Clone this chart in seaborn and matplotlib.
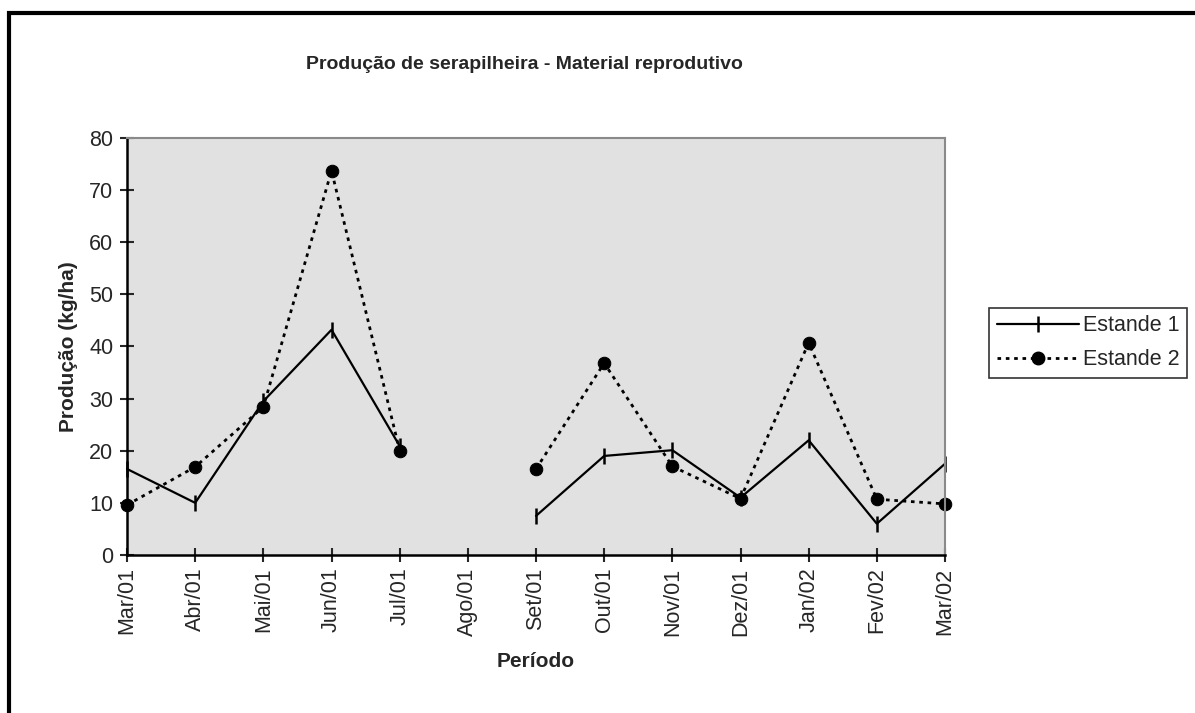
import numpy as np
import pandas as pd
import matplotlib
matplotlib.use("Agg")
import matplotlib.pyplot as plt
from matplotlib.lines import Line2D
from matplotlib.patches import Rectangle
import seaborn as sns

meses = ["Mar/01", "Abr/01", "Mai/01", "Jun/01", "Jul/01", "Ago/01", "Set/01",
         "Out/01", "Nov/01", "Dez/01", "Jan/02", "Fev/02", "Mar/02"]
estande1 = [16.5, 10.0, 29.5, 43.2, 20.9, np.nan, 7.5, 19.0, 20.1, 11.0, 22.0, 6.0, 17.5]
estande2 = [9.6, 16.9, 28.4, 73.7, 20.0, np.nan, 16.5, 36.8, 17.0, 10.8, 40.7, 10.7, 9.8]

sns.set_style("white")
plt.rcParams["font.family"] = ["Liberation Sans", "DejaVu Sans"]

df = pd.DataFrame({"x": np.arange(len(meses)), "Estande 1": estande1, "Estande 2": estande2})
# split into segments at the missing month so lines break there
df["seg"] = df[["Estande 1", "Estande 2"]].isna().any(axis=1).cumsum()
df = df.dropna()

fig = plt.figure(figsize=(11.95, 7.13), dpi=100)
ax = fig.add_axes([0.1063, 0.2216, 0.6845, 0.585])
ax.set_facecolor("#e1e1e1")

s1 = dict(color="black", lw=1.6, marker="|", markersize=11, markeredgewidth=1.8,
          markeredgecolor="black")
s2 = dict(color="black", lw=2.0, linestyle=(0, (1.3, 1.7)), marker="o", markersize=9,
          markeredgecolor="black", markerfacecolor="black")

for s, part in df.groupby("seg"):
    sns.lineplot(data=part, x="x", y="Estande 1", ax=ax, clip_on=False, **s1)
    sns.lineplot(data=part, x="x", y="Estande 2", ax=ax, clip_on=False, **s2)

ax.set_xlim(0, len(meses) - 1)
ax.set_ylim(0, 80)
ax.set_xticks(np.arange(len(meses)))
ax.set_xticklabels(meses, rotation=90, fontsize=15.5)
ax.set_yticks(np.arange(0, 81, 10))
ax.tick_params(axis="y", labelsize=15.5, direction="inout", length=10, width=1.5, left=True, pad=5)
ax.tick_params(axis="x", direction="inout", length=10, width=1.5, bottom=True, pad=4)

for side in ["left", "bottom"]:
    ax.spines[side].set_color("black")
    ax.spines[side].set_linewidth(1.8)
for side in ["top", "right"]:
    ax.spines[side].set_color("#8a8a8a")
    ax.spines[side].set_linewidth(1.5)

ax.set_xlabel("Período", fontsize=15, fontweight="bold", labelpad=12)
ax.set_ylabel("Produção (kg/ha)", fontsize=15, fontweight="bold", labelpad=8)
fig.text(0.4385, 0.909, "Produção de serapilheira - Material reprodutivo",
         ha="center", va="center", fontsize=14, fontweight="bold")

handles = [Line2D([], [], **s1), Line2D([], [], **s2)]
leg = fig.legend(handles, ["Estande 1", "Estande 2"], loc="center left",
                 bbox_to_anchor=(0.828, 0.519), frameon=True, fancybox=False,
                 edgecolor="black", fontsize=15.5, handlelength=3.8,
                 borderpad=0.35, labelspacing=0.6, handletextpad=0.2, borderaxespad=0)
leg.get_frame().set_linewidth(1.2)

# outer chart frame (runs past right/bottom edges)
fig.patches.append(Rectangle((0.0075, -0.2), 1.2, 1.2 - 0.018, transform=fig.transFigure,
                             fill=False, edgecolor="black", lw=3))

fig.savefig("out.png", dpi=100)
